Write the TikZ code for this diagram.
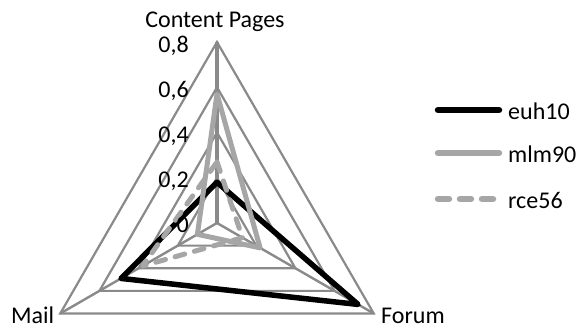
\documentclass[tikz,border=0pt]{standalone}
\usepackage{fontspec}
\setmainfont{Carlito}
\usetikzlibrary{calc}
\definecolor{ringgray}{RGB}{138,138,138}
\definecolor{lightgray}{RGB}{166,166,166}
\tikzset{
  ring/.style={draw=ringgray, line width=2.2pt, line join=miter},
  spoke/.style={draw=ringgray, line width=2.4pt},
  euhline/.style={draw=black, line width=5.5pt, line join=round, line cap=round},
  mlmline/.style={draw=lightgray, line width=5pt, line join=round, line cap=round},
  rceline/.style={draw=lightgray, line width=5pt, line join=round, line cap=round, dash pattern=on 10pt off 10pt},
  ticklbl/.style={font=\fontsize{24}{27}\selectfont, anchor=base east, inner sep=0pt},
  axislbl/.style={font=\fontsize{24}{27}\selectfont, inner sep=0pt, text depth=0pt},
}
\begin{document}
\begin{tikzpicture}[x=1pt,y=1pt]
\useasboundingbox (0,0) rectangle (584,329);
\def\u{226.25}
\coordinate (C) at (217,106);
% rings
\foreach \v [count=\i] in {0.2,0.4,0.6,0.8}{
  \path[ring] ($(C)+(90:\v*\u)$) -- ($(C)+(-30:\v*\u)$) -- ($(C)+(210:\v*\u)$) -- cycle;
}
% spokes
\coordinate (Ctop) at ($(C)+(90:0.8*\u)$);
\coordinate (Cfor) at ($(C)+(-30:0.8*\u)$);
\coordinate (Cmail) at ($(C)+(210:0.8*\u)$);
\draw[spoke] (C) -- (Cfor);
\draw[spoke] (C) -- (Cmail);
\draw[spoke, line width=3.2pt] (C) -- (Ctop);
% series
\coordinate (e1) at ($(C)+(90:0.18*\u)$);
\coordinate (e2) at ($(C)+(-30:0.72*\u)$);
\coordinate (e3) at ($(C)+(210:0.49*\u)$);
\draw[euhline] (e1) -- (e2) -- (e3) -- cycle;
\coordinate (m1) at ($(C)+(90:0.57*\u)$);
\coordinate (m2) at ($(C)+(-30:0.22*\u)$);
\coordinate (m3) at ($(C)+(210:0.10*\u)$);
\draw[mlmline] (m1) -- (m2) -- (m3) -- cycle;
\coordinate (r1) at ($(C)+(90:0.27*\u)$);
\coordinate (r2) at ($(C)+(-30:0.13*\u)$);
\coordinate (r3) at ($(C)+(210:0.38*\u)$);
\draw[rceline] (r1) -- (r2) -- (r3) -- cycle;
% tick labels
\node[ticklbl] (t8) at (189,276) {0,8};
\node[ticklbl] (t6) at (189,231) {0,6};
\node[ticklbl] (t4) at (189,186) {0,4};
\node[ticklbl] (t2) at (189,141) {0,2};
\node[ticklbl] (t0) at (189,96) {0};
% axis labels
\node[axislbl, anchor=base] (lc) at (215,301) {Content Pages};
\node[axislbl, anchor=base west] (lm) at (11,5) {Mail};
\node[axislbl, anchor=base west] (lf) at (381,5) {Forum};
% legend
\coordinate (a1) at (438,219); \coordinate (b1) at (499,219);
\coordinate (a2) at (438,176); \coordinate (b2) at (499,176);
\coordinate (a3) at (438,130); \coordinate (b3) at (499,130);
\draw[euhline, line width=6.5pt] (a1) -- (b1);
\draw[mlmline, line width=6.5pt] (a2) -- (b2);
\draw[rceline, line width=6.5pt, dash pattern=on 11pt off 11pt] (a3) -- (b3);
\node[axislbl, anchor=base west] (g1) at (508,209) {euh10};
\node[axislbl, anchor=base west] (g2) at (508,166) {mlm90};
\node[axislbl, anchor=base west] (g3) at (508,120) {rce56};
\end{tikzpicture}
\end{document}
